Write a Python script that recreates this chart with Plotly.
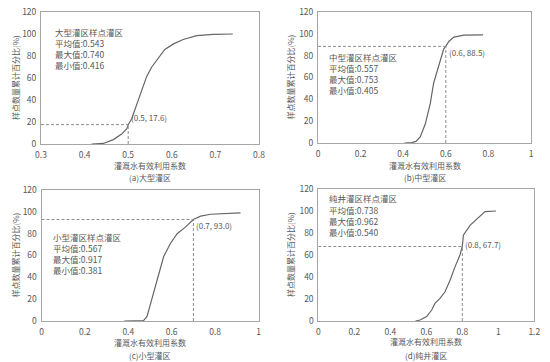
import plotly.graph_objects as go

# ---------------- data ----------------
xa = [0.416, 0.443, 0.466, 0.485, 0.497, 0.500, 0.508, 0.519, 0.531, 0.542, 0.554, 0.569, 0.584, 0.604, 0.626, 0.657, 0.695, 0.740]
ya = [0, 0.5, 4, 9, 14, 17.6, 23, 35, 50, 61, 70, 78, 86, 91, 95, 98.5, 99.7, 100]

xb = [0.405, 0.44, 0.46, 0.48, 0.504, 0.527, 0.543, 0.567, 0.59, 0.6, 0.614, 0.638, 0.685, 0.775]
yb = [0, 0.3, 1.5, 5.5, 17.6, 36, 55, 70, 86, 88.5, 93, 97, 98.8, 99]

xc = [0.381, 0.47, 0.486, 0.501, 0.517, 0.54, 0.563, 0.594, 0.625, 0.663, 0.7, 0.733, 0.779, 0.917]
yc = [0, 0.3, 4, 14.6, 27, 44, 59, 71, 80, 86, 93, 96, 97.8, 99]

xd = [0.540, 0.565, 0.602, 0.630, 0.648, 0.676, 0.704, 0.732, 0.759, 0.787, 0.8, 0.806, 0.843, 0.889, 0.926, 0.987]
yd = [0, 0.9, 4, 10, 16, 20.6, 26.6, 37, 49, 60, 67.7, 78, 87, 94, 99.4, 100]

marks = [(0.5, 17.6), (0.6, 88.5), (0.7, 93.0), (0.8, 67.7)]
mark_labels = ["(0.5, 17.6)", "(0.6, 88.5)", "(0.7, 93.0)", "(0.8, 67.7)"]

stats = [
    ["大型灌区样点灌区", "平均值:0.543", "最大值:0.740", "最小值:0.416"],
    ["中型灌区样点灌区", "平均值:0.557", "最大值:0.753", "最小值:0.405"],
    ["小型灌区样点灌区", "平均值:0.567", "最大值:0.917", "最小值:0.381"],
    ["纯井灌区样点灌区", "平均值:0.738", "最大值:0.962", "最小值:0.540"],
]
captions = ["(a)大型灌区", "(b)中型灌区", "(c)小型灌区", "(d)纯井灌区"]
x_title = "灌溉水有效利用系数"
y_title = "样点数量累计百分比(%)"

x_ranges = [[0.3, 0.8], [0, 1], [0, 1], [0, 1.2]]
x_ticks = [[0.3, 0.4, 0.5, 0.6, 0.7, 0.8], [0, 0.2, 0.4, 0.6, 0.8, 1],
           [0, 0.2, 0.4, 0.6, 0.8, 1], [0, 0.2, 0.4, 0.6, 0.8, 1, 1.2]]
x_ticktext = [["0.3", "0.4", "0.5", "0.6", "0.7", "0.8"], ["0", "0.2", "0.4", "0.6", "0.8", "1"],
              ["0", "0.2", "0.4", "0.6", "0.8", "1"], ["0", "0.2", "0.4", "0.6", "0.8", "1", "1.2"]]
y_ticks = [0, 20, 40, 60, 80, 100, 120]

series = [(xa, ya), (xb, yb), (xc, yc), (xd, yd)]

# ---------------- layout (pixel boxes) ----------------
W, H = 550, 362
boxes = [  # left, right, top, bottom in px
    (41, 259, 12, 144),
    (318, 531, 12, 143),
    (41.5, 258.5, 190, 321),
    (318.3, 534.3, 189, 321),
]
stat_pos = [  # left x px, line centers y px
    (53, [32.3, 43.3, 54, 65]),
    (326.7, [56.7, 67.7, 79, 90]),
    (50.7, [237, 248, 259.3, 270.3]),
    (326.7, [198.3, 210, 221, 231.7]),
]
xtitle_y = [165, 165, 342, 341]
cap_y = [177, 177, 355.3, 355]
ytitle_x = [15, 290, 15, 290]

def PX(x):
    return x / W

def PY(y):
    return 1 - y / H

FONT = "Noto Sans CJK SC, Roboto, sans-serif"
TXT = "#595959"
CURVE = "#666666"
BORDER = "#a6a6a6"
DASH = "#8c8c8c"

fig = go.Figure()
annotations = []
shapes = []
layout_axes = {}

for i in range(4):
    n = "" if i == 0 else str(i + 1)
    xs, ys = series[i]
    fig.add_trace(go.Scatter(x=xs, y=ys, mode="lines", xaxis="x" + n, yaxis="y" + n,
                             line=dict(color=CURVE, width=1.2), showlegend=False,
                             hoverinfo="skip"))
    l, r, t, b = boxes[i]
    layout_axes["xaxis" + n] = dict(
        domain=[PX(l), PX(r)], range=x_ranges[i], anchor="y" + n, automargin=False,
        tickvals=x_ticks[i], ticktext=x_ticktext[i], showgrid=False, zeroline=False,
        showline=True, mirror=True, linecolor=BORDER, linewidth=1,
        ticks="outside", ticklen=3, tickcolor="rgba(0,0,0,0)",
        tickfont=dict(size=8.5, color=TXT, family=FONT), fixedrange=True)
    layout_axes["yaxis" + n] = dict(
        domain=[PY(b), PY(t)], range=[0, 120], anchor="x" + n, automargin=False,
        tickvals=y_ticks, showgrid=False, zeroline=False,
        showline=True, mirror=True, linecolor=BORDER, linewidth=1,
        ticks="outside", ticklen=2, tickcolor="rgba(0,0,0,0)",
        tickfont=dict(size=8.5, color=TXT, family=FONT), fixedrange=True)

    # dashed guide lines
    mx, my = marks[i]
    x0 = x_ranges[i][0]
    shapes.append(dict(type="line", xref="x" + n, yref="y" + n, x0=x0, x1=mx, y0=my, y1=my,
                       line=dict(color=DASH, width=1, dash="3px,2px")))
    shapes.append(dict(type="line", xref="x" + n, yref="y" + n, x0=mx, x1=mx, y0=0, y1=my,
                       line=dict(color=DASH, width=1, dash="3px,2px")))
    annotations.append(dict(xref="x" + n, yref="y" + n, x=mx, y=my, text=mark_labels[i],
                            showarrow=False, xanchor="left", yanchor="top" if i in (1, 2) else "bottom",
                            xshift=1, yshift=1 if i in (1, 2) else -5 if i == 3 else 0,
                            font=dict(size=8, color=TXT, family=FONT)))

    # stats text
    sx, sys_ = stat_pos[i]
    for line, cy in zip(stats[i], sys_):
        annotations.append(dict(xref="paper", yref="paper", x=PX(sx), y=PY(cy), text=line,
                                showarrow=False, xanchor="left", yanchor="middle",
                                font=dict(size=8.5, color=TXT, family=FONT)))

    cx = (l + r) / 2
    annotations.append(dict(xref="paper", yref="paper", x=PX(cx), y=PY(xtitle_y[i]), text=x_title,
                            showarrow=False, xanchor="center", yanchor="middle",
                            font=dict(size=8, color=TXT, family=FONT)))
    annotations.append(dict(xref="paper", yref="paper", x=PX(cx), y=PY(cap_y[i]), text=captions[i],
                            showarrow=False, xanchor="center", yanchor="middle",
                            font=dict(size=8, color=TXT, family=FONT)))
    annotations.append(dict(xref="paper", yref="paper", x=PX(ytitle_x[i]), y=PY((t + b) / 2),
                            text=y_title, textangle=-90,
                            showarrow=False, xanchor="center", yanchor="middle",
                            font=dict(size=8, color=TXT, family=FONT)))

fig.update_layout(
    width=W, height=H, margin=dict(l=0, r=0, t=0, b=0),
    paper_bgcolor="white", plot_bgcolor="white",
    annotations=annotations, shapes=shapes, **layout_axes)

fig.write_html(
    "out.html",
    config={"displayModeBar": False, "staticPlot": True},
    post_script="document.body.style.margin='0';document.body.style.padding='0';"
                "document.body.style.overflow='hidden';",
)
